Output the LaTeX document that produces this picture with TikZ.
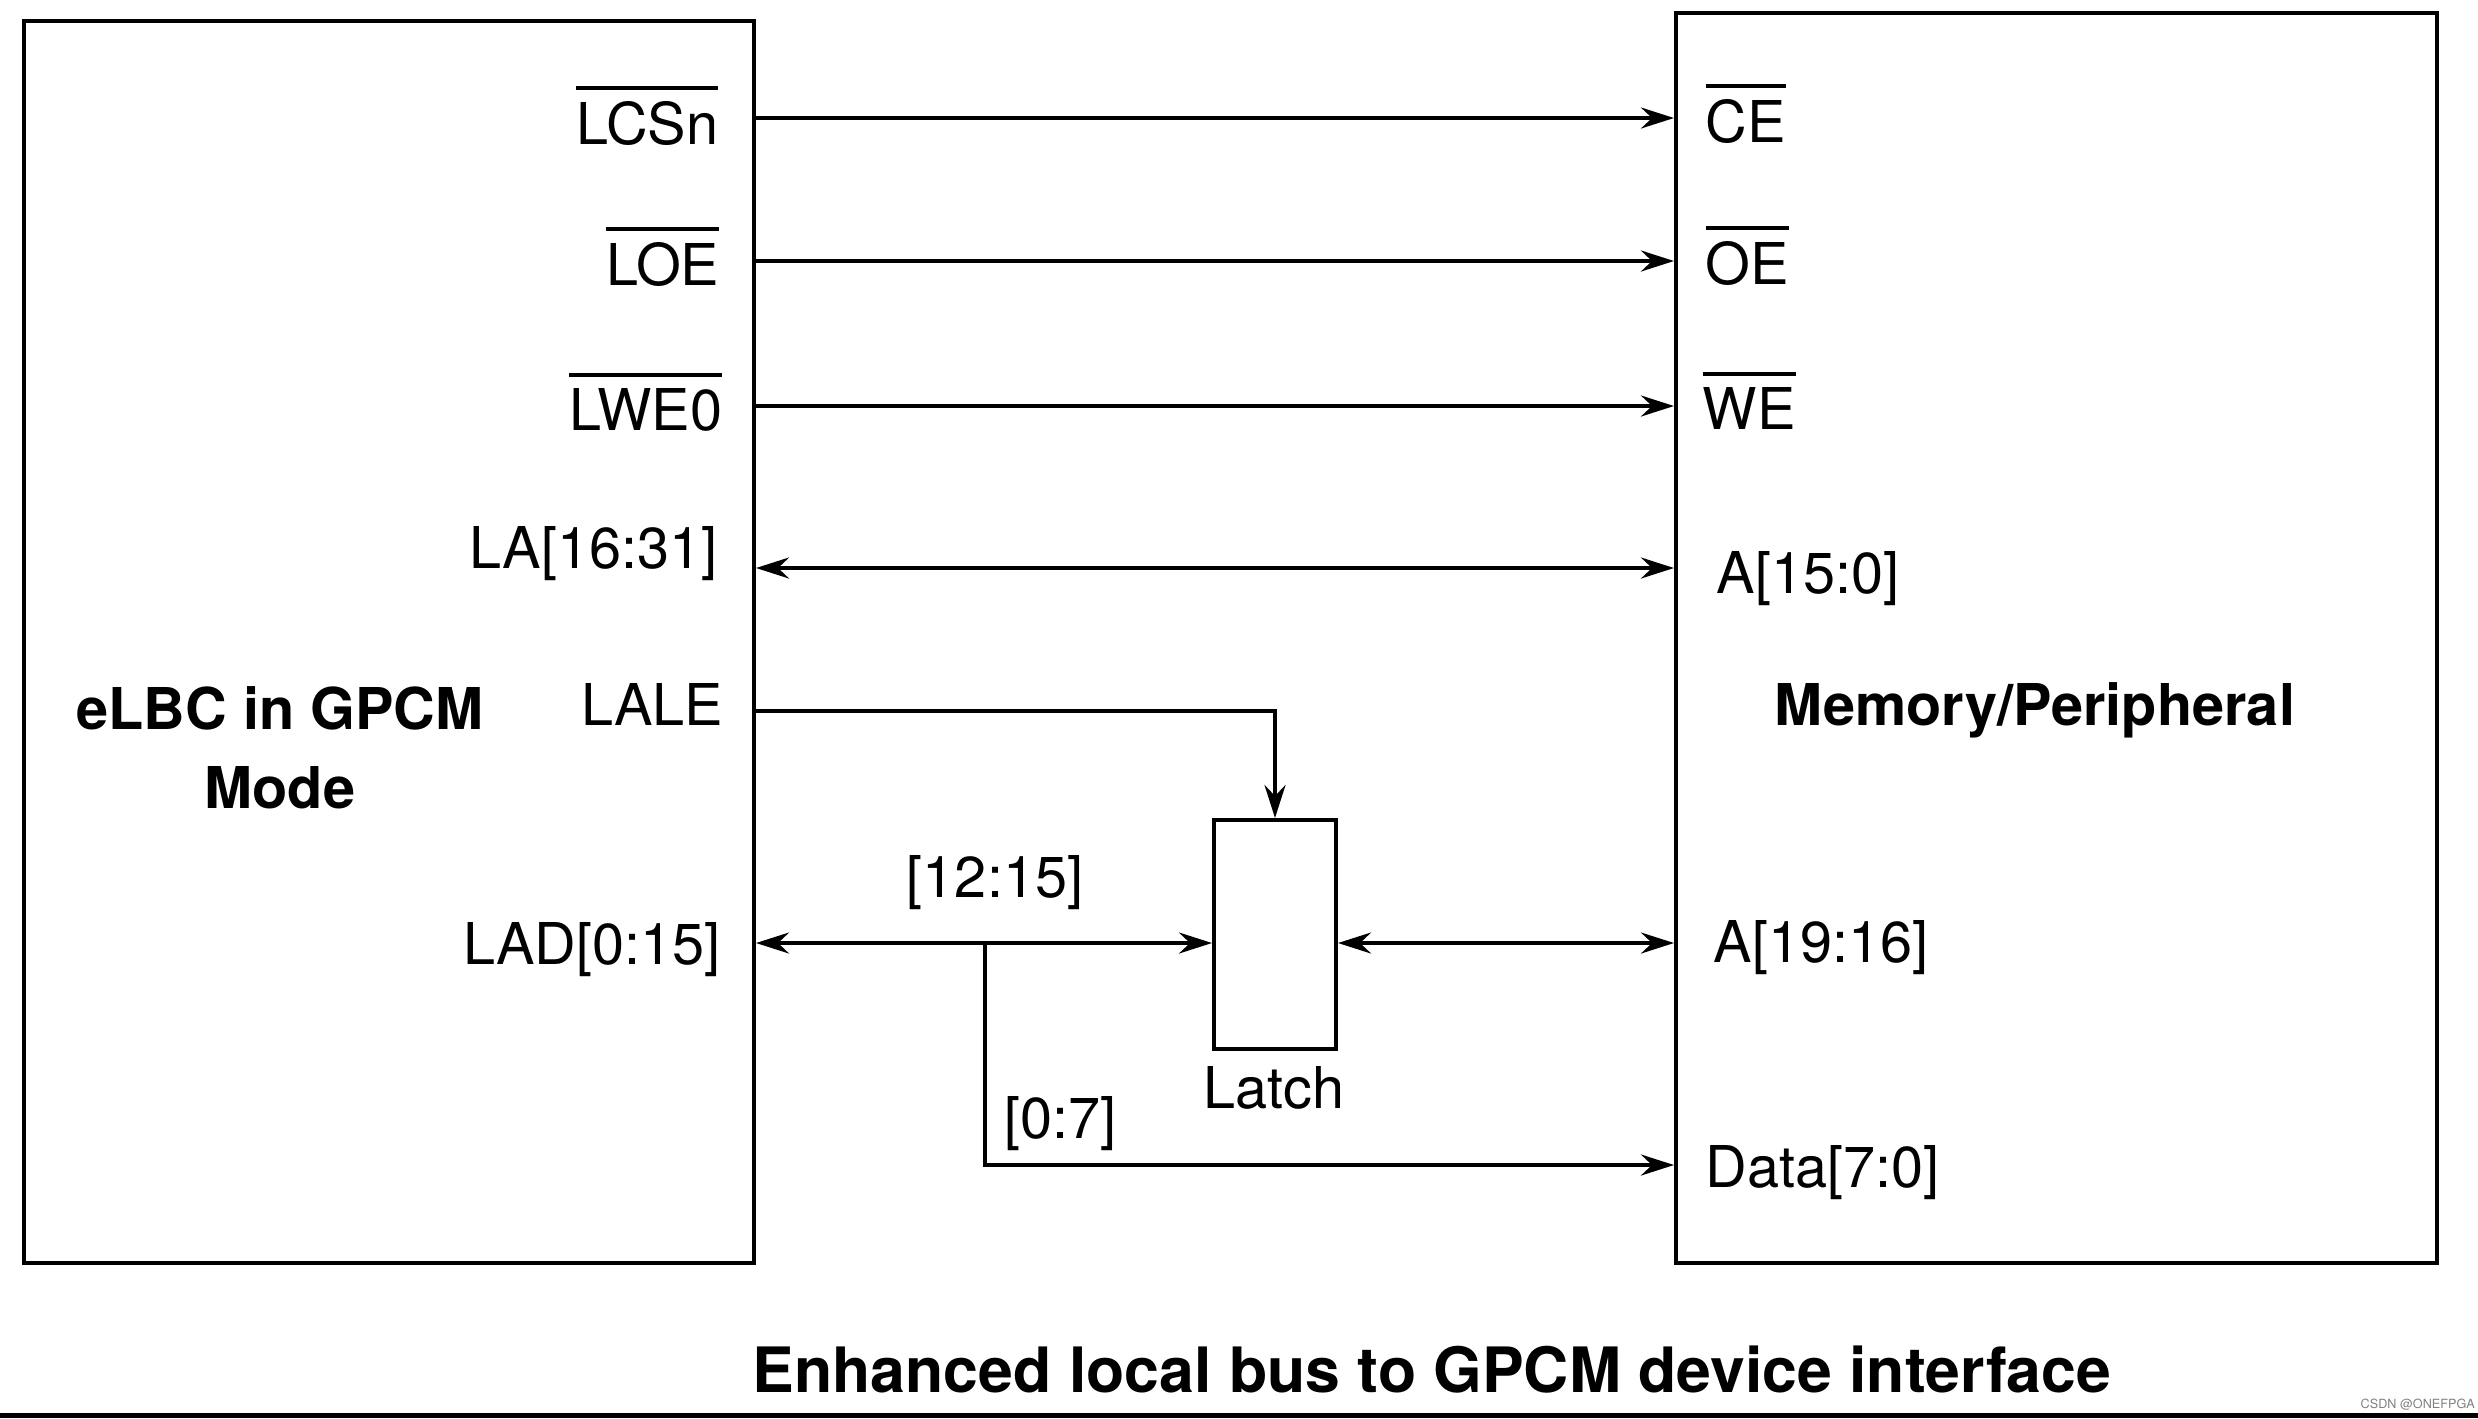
\documentclass[tikz,border=0pt]{standalone}
\usepackage{fontspec}
\setmainfont{TeX Gyre Heros}
\usetikzlibrary{arrows.meta}

% Texto con barra de negación encima
\newcommand{\ovbar}[1]{\vbox{\hrule height 1.3pt\kern 3pt\hbox{#1}}}

\tikzset{
  caja/.style={draw, line width=1.15pt, inner sep=0pt},
  senal/.style={line width=1pt, -{Stealth[length=3.3mm,width=2.1mm,inset=1.1mm]}},
  bus/.style={line width=1pt, {Stealth[length=3.3mm,width=2.1mm,inset=1.1mm]}-{Stealth[length=3.3mm,width=2.1mm,inset=1.1mm]}},
  etiq/.style={inner sep=0pt, font=\fontsize{16.4}{19.7}\selectfont},
  titulo/.style={inner sep=0pt, align=center, font=\bfseries\fontsize{16.4}{22.5}\selectfont}
}

\begin{document}
\begin{tikzpicture}[x=0.1mm, y=-0.1mm]
        \useasboundingbox (0,0) rectangle (2478,1418);

        % Define los dos bloques y el latch.
        \node[caja, minimum width=73mm, minimum height=124.2mm] (elbc) at (389,642) {};
        \node[caja, minimum width=76.1mm, minimum height=125mm] (mem) at (2056.5,638) {};
        \node[caja, minimum width=12.2mm, minimum height=22.9mm] (latch) at (1275,934.5) {};

        % Niveles de cada señal.
        \coordinate (lcs) at (0,118);
        \coordinate (loe) at (0,261);
        \coordinate (lwe) at (0,406);
        \coordinate (la) at (0,568);
        \coordinate (lale) at (0,711);
        \coordinate (lad) at (0,943);
        \coordinate (dat) at (0,1165);
        \coordinate (tap) at (985,943);

        % Dibuja las conexiones.
        \draw[senal] (elbc.east |- lcs) -- (mem.west |- lcs);
        \draw[senal] (elbc.east |- loe) -- (mem.west |- loe);
        \draw[senal] (elbc.east |- lwe) -- (mem.west |- lwe);
        \draw[bus] (elbc.east |- la) -- (mem.west |- la);
        \draw[senal] (elbc.east |- lale) -| (latch.north);
        \draw[bus] (elbc.east |- lad) -- (latch.west |- lad);
        \draw[bus] (latch.east |- lad) -- (mem.west |- lad);
        \draw[senal] (tap) |- (mem.west |- dat);

        % Etiquetas del lado eLBC.
        \node[etiq, anchor=base east] (lcsn) at (719,144) {\ovbar{LCSn}};
        \node[etiq, anchor=base east] (loen) at (720,285) {\ovbar{LOE}};
        \node[etiq, anchor=base east] (lwen) at (723,430) {\ovbar{LWE0}};
        \node[etiq, anchor=base east] (lan) at (718,568) {LA[16:31]};
        \node[etiq, anchor=base east] (lalen) at (724,725) {LALE};
        \node[etiq, anchor=base east] (ladn) at (721,964) {LAD[0:15]};

        % Etiquetas del lado de la memoria.
        \node[etiq, anchor=base west] (cen) at (1705,142) {\ovbar{CE}};
        \node[etiq, anchor=base west] (oen) at (1705,284) {\ovbar{OE}};
        \node[etiq, anchor=base west] (wen) at (1702,429) {\ovbar{WE}};
        \node[etiq, anchor=base west] (alo) at (1716,593) {A[15:0]};
        \node[etiq, anchor=base west] (ahi) at (1713,962) {A[19:16]};
        \node[etiq, anchor=base west] (datn) at (1705,1187) {Data[7:0]};

        % Etiquetas del bus y del latch.
        \node[etiq, anchor=base] (hi) at (995,897) {[12:15]};
        \node[etiq, anchor=base west] (lo) at (1004,1138) {[0:7]};
        \node[etiq, anchor=base] (latchn) at (1274,1108) {Latch};

        % Nombres de los bloques y título.
        \node[titulo] (elbcn) at (280,748) {eLBC in GPCM\\Mode};
        \node[titulo, anchor=base] (memn) at (2035,725) {Memory/Peripheral};
        \node[inner sep=0pt, anchor=base, font=\bfseries\fontsize{17.8}{21}\selectfont] (tit) at (1432,1392) {Enhanced local bus to GPCM device interface};
        \node[inner sep=0pt, anchor=base west, text=gray, font=\fontsize{3.6}{4.3}\selectfont] (marca) at (2360,1408) {CSDN @ONEFPGA};

        % Franja negra inferior.
        \fill (0,1412.5) rectangle (2478,1418);
    \end{tikzpicture}
\end{document}
